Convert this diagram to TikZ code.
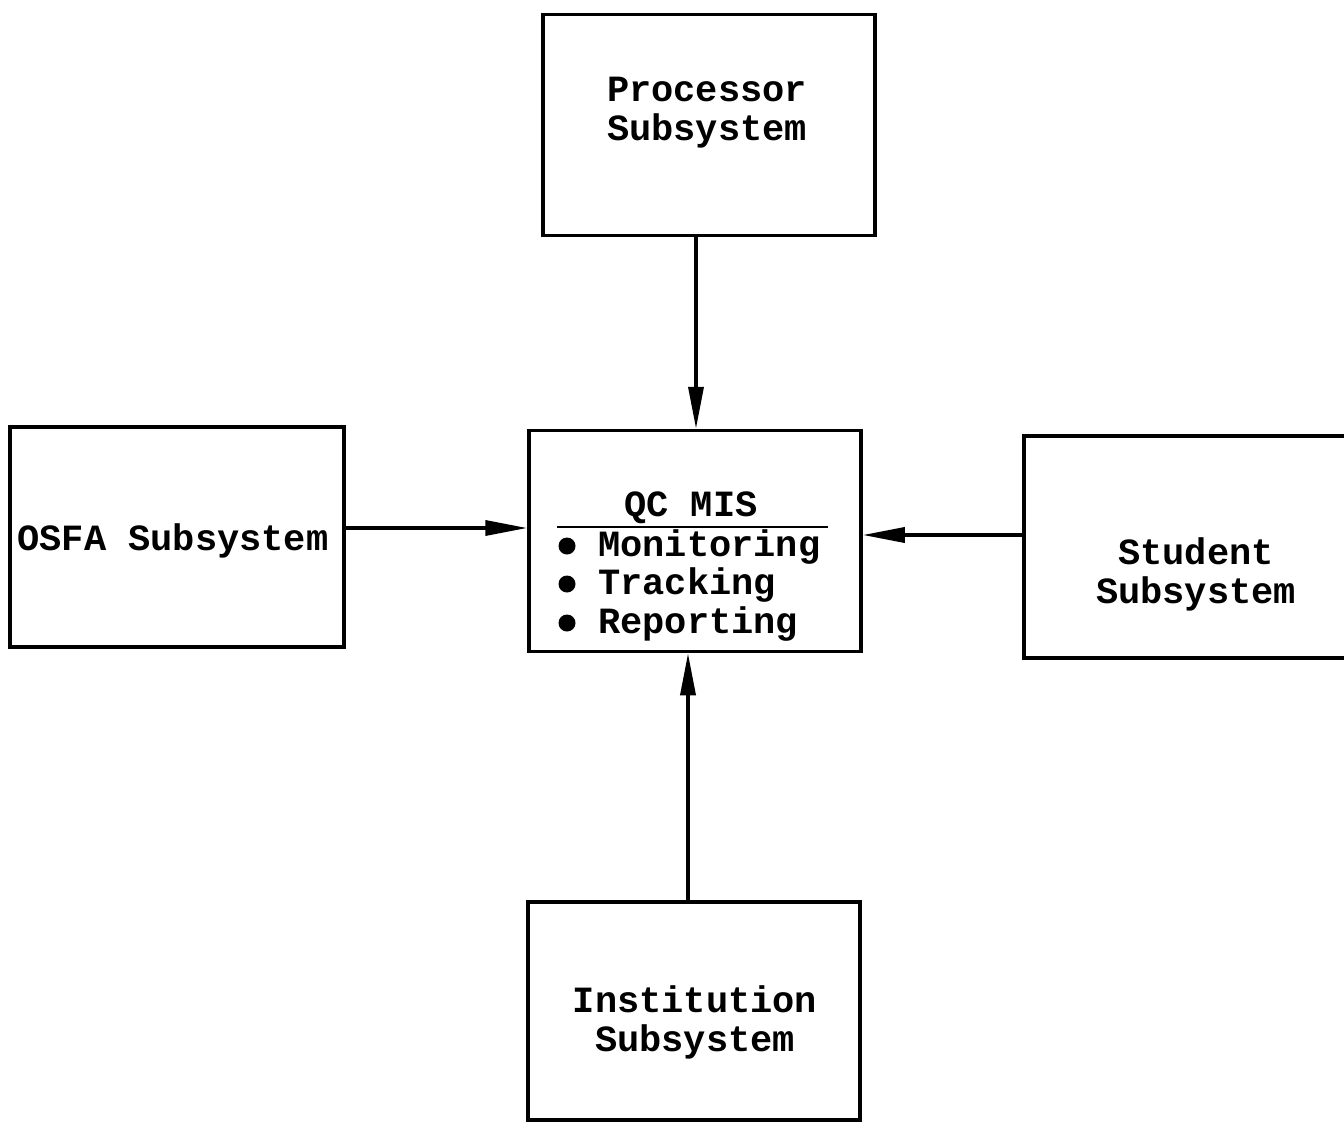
\documentclass[tikz,border=0pt]{standalone}
\usepackage{fontspec}
\setmonofont{Liberation Mono}
\usetikzlibrary{arrows.meta}
\begin{document}
\begin{tikzpicture}[x=1pt,y=-1pt,
  box/.style={draw=black,line width=3.5pt,minimum width=332pt,minimum height=221pt,inner sep=0pt},
  lbl/.style={font=\ttfamily\bfseries\fontsize{37}{39}\selectfont,align=center,inner sep=0pt},
  conn/.style={line width=3.5pt,-{Triangle[length=42pt,width=15pt]}},
  dot/.style={circle,fill=black,minimum size=17pt,inner sep=0pt}]
\useasboundingbox (0,0) rectangle (1344,1122);
\clip (0,0) rectangle (1344,1122);
\fill[white] (0,0) rectangle (1344,1122);
% boxes
\node[box] (proc) at (709,125) {};
\node[box,minimum width=334pt,minimum height=220pt] (osfa) at (177,537) {};
\node[box] (qc) at (695,541) {};
\node[box,minimum width=344pt,minimum height=222pt] (stud) at (1196,547) {};
\node[box,minimum height=218pt] (inst) at (694,1011) {};
% labels
\node[lbl] (proct) at (707,113) {Processor\\Subsystem};
\node[lbl] (osfat) at (173,541) {OSFA Subsystem};
\node[lbl] (studt) at (1196,574) {Student\\Subsystem};
\node[lbl] (instt) at (695,1022) {Institution\\Subsystem};
\node[lbl] (qct) at (691,508) {QC MIS};
\draw[line width=2.5pt] (557,527) coordinate (ula) -- (828,527) coordinate (ulb);
\node[dot] (d1) at (567,546) {};
\node[dot] (d2) at (567,584) {};
\node[dot] (d3) at (567,623) {};
\node[lbl,anchor=west] (t1) at (598,547) {Monitoring};
\node[lbl,anchor=west] (t2) at (598,585) {Tracking};
\node[lbl,anchor=west] (t3) at (598,624) {Reporting};
% connectors
\draw[conn] ([xshift=-13pt]proc.south) -- ([xshift=1pt]qc.north);
\draw[conn] ([yshift=9pt]osfa.east) -- ([yshift=13pt]qc.west);
\draw[conn] ([yshift=12pt]stud.west) -- ([yshift=6pt]qc.east);
\draw[conn] ([xshift=-6pt]inst.north) -- ([xshift=-7pt]qc.south);
\end{tikzpicture}
\end{document}
